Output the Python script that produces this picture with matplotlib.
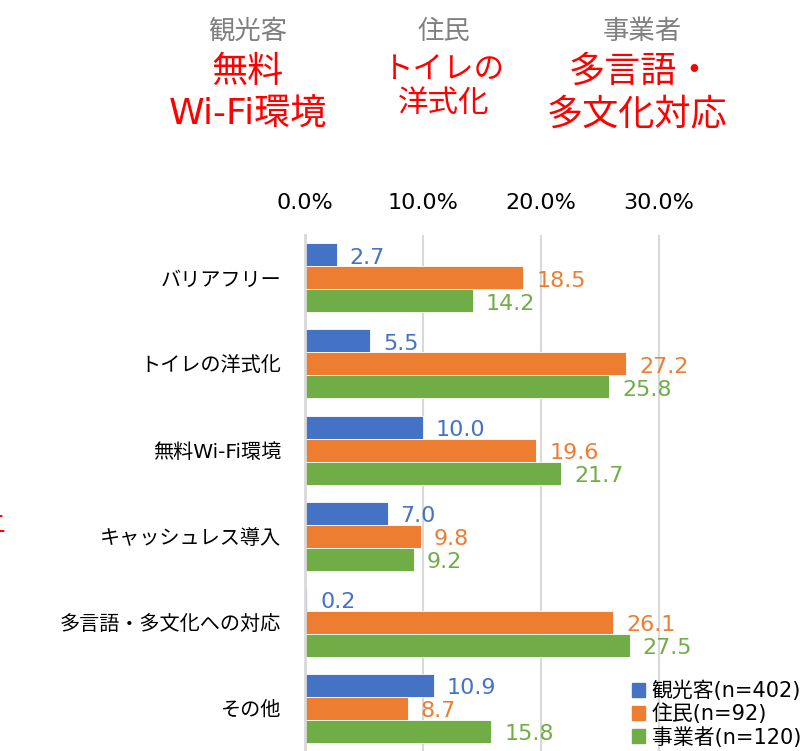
import matplotlib.pyplot as plt
import numpy as np
from matplotlib.patches import Patch

plt.rcParams['font.family'] = ['DejaVu Sans', 'Noto Sans CJK JP']

# データ
categories = ['バリアフリー', 'トイレの洋式化', '無料Wi-Fi環境', 'キャッシュレス導入',
              '多言語・多文化への対応', 'その他']
series_names = ['観光客(n=402)', '住民(n=92)', '事業者(n=120)']
tourist = [2.7, 5.5, 10.0, 7.0, 0.2, 10.9]
resident = [18.5, 27.2, 19.6, 9.8, 26.1, 8.7]
business = [14.2, 25.8, 21.7, 9.2, 27.5, 15.8]
tick_values = [0, 10, 20, 30]
tick_labels = ['0.0%', '10.0%', '20.0%', '30.0%']

colors = ['#4472C4', '#ED7D31', '#70AD47']
grid_color = '#D9D9D9'

W, H = 802, 751
fig = plt.figure(figsize=(W / 100, H / 100), dpi=100)

# グラフ領域
ax = fig.add_axes([305 / W, 0, 1 - 305 / W, 1 - 235 / H])
y = np.arange(len(categories))
h = 23 / 86

for k, (vals, c) in enumerate(zip([tourist, resident, business], colors)):
    pos = y + (k - 1) * h
    ax.barh(pos, vals, height=h, color=c, edgecolor='white', linewidth=0.6, zorder=3)
    for p, v in zip(pos, vals):
        ax.text(v + 1.1, p + 0.03, f'{v:.1f}', color=c, fontsize=16,
                va='center', ha='left', zorder=4)

ax.set_xlim(0, (W - 305) / 11.8)
ax.set_ylim(len(categories) - 0.5, -0.5)
ax.set_yticks(y)
ax.set_yticklabels(categories, fontsize=14.5)
ax.set_xticks(tick_values)
ax.set_xticklabels(tick_labels, fontsize=16)
ax.xaxis.tick_top()
ax.tick_params(axis='x', length=0, pad=16)
ax.tick_params(axis='y', length=0, pad=17)
ax.grid(axis='x', color=grid_color, linewidth=1.5, zorder=0)
for s in ['top', 'right', 'bottom']:
    ax.spines[s].set_visible(False)
ax.spines['left'].set_color(grid_color)
ax.spines['left'].set_linewidth(2)
ax.spines['left'].set_zorder(5)

# 凡例
handles = [Patch(color=c) for c in colors]
fig.legend(handles, series_names, loc='lower right', bbox_to_anchor=(1.017, -0.015),
           frameon=False, fontsize=15, handlelength=0.65, handleheight=0.65,
           handletextpad=0.3, labelspacing=0.12, borderpad=0.2)

# 上部の見出し
def ftext(x, yy, s, size, color):
    fig.text(x / W, 1 - yy / H, s, fontsize=size, color=color, ha='center', va='center')

ftext(248, 32, '観光客', 19, '#808080')
ftext(248, 72, '無料', 26, 'red')
ftext(248, 115, 'Wi-Fi環境', 26, 'red')
ftext(444, 32, '住民', 19, '#808080')
ftext(444, 70, 'トイレの', 22, 'red')
ftext(444, 104, '洋式化', 22, 'red')
ftext(642, 32, '事業者', 19, '#808080')
ftext(641, 72, '多言語・', 26, 'red')
ftext(637, 115, '多文化対応', 26, 'red')

# 左端の赤い文字（一部のみ表示）
fig.text(5 / W, 1 - 525 / H, '二', fontsize=17, color='red', ha='right', va='center')

fig.savefig('out.png', dpi=100)
